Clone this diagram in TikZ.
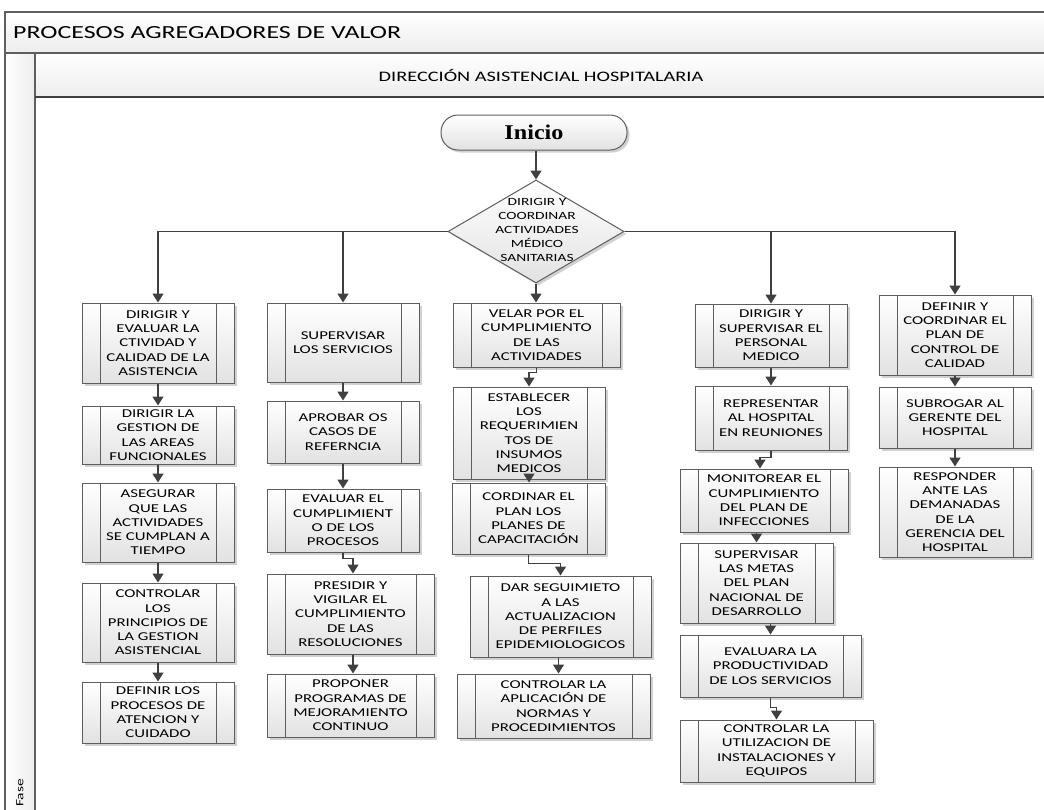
\documentclass[tikz,border=0pt]{standalone}
\usepackage{fontspec}
\usetikzlibrary{shapes.geometric,arrows.meta,shadows,calc}
\newfontfamily\cfont[FakeStretch=1.4]{Carlito}
\newfontfamily\tfont[FakeStretch=1.15]{Liberation Serif}
\definecolor{bordergray}{HTML}{5E5E5E}
\definecolor{arrowgray}{HTML}{404040}
\definecolor{fillgray}{HTML}{E2E2E2}
\definecolor{bandgray}{HTML}{EDEDED}
\tikzset{
 shade/.style={drop shadow={shadow xshift=2.5pt,shadow yshift=-2.5pt,fill=black,opacity=0.18}},
 proc/.style={draw=bordergray, line width=1pt, top color=white, bottom color=fillgray,
   inner sep=0pt, align=center, font=\cfont\fontsize{12}{14.3}\selectfont, shade,
   path picture={\draw[bordergray, line width=1pt]
     ([xshift=18pt]path picture bounding box.north west) -- ([xshift=18pt]path picture bounding box.south west)
     ([xshift=-18pt]path picture bounding box.north east) -- ([xshift=-18pt]path picture bounding box.south east);}},
 arr/.style={draw=arrowgray, line width=1.6pt, -{Triangle[width=11pt,length=9pt]}},
 hdr/.style={font=\cfont\fontsize{#1}{#1}\selectfont, inner sep=0pt},
}
\newcommand\pbox[6]{\node[proc, minimum width=#4pt, minimum height=#5pt] (#1) at (#2,#3) {#6};}
\begin{document}
\begin{tikzpicture}[x=1pt,y=-1pt]
\useasboundingbox (0,0) rectangle (1044,809);
\clip (0,0) rectangle (1044,809);
% frame
\path[top color=white, bottom color=bandgray] (5,12) rectangle (1060,53);
\path[top color=white, bottom color=bandgray] (35,53) rectangle (1060,97);
\path[left color=white, right color=bandgray] (5,53) rectangle (35,830);
\draw[bordergray, line width=1.3pt] (1060,12) -- (5,12) -- (5,830);
\draw[bordergray, line width=1.3pt] (5,53) -- (1060,53);
\draw[bordergray, line width=1.3pt] (35,53) -- (35,830);
\draw[arrowgray, line width=1.3pt] (35,97) -- (1060,97);
\node[hdr=18.5, anchor=west] (h1) at (13,32.5) {PROCESOS AGREGADORES DE VALOR};
\node[hdr=14.5] (h2) at (541,75) {DIRECCIÓN ASISTENCIAL HOSPITALARIA};
\node[hdr=11, rotate=90] (fase) at (20,793) {Fase};
% start and decision
\node[draw=bordergray, line width=1pt, rounded corners=17pt, minimum width=186pt, minimum height=35pt,
  top color=white, bottom color=fillgray, shade, font=\tfont\bfseries\fontsize{21}{24}\selectfont] (start) at (534,132.5) {Inicio};
\node[diamond, draw=bordergray, line width=1pt, minimum width=176pt, minimum height=103pt, inner sep=0pt,
  top color=white, bottom color=fillgray, shade] (dec) at (536,231.5) {};
\node[font=\cfont\fontsize{11}{14}\selectfont, align=center, inner sep=0pt] (dectext) at (537,230)
  {DIRIGIR Y\\COORDINAR\\ACTIVIDADES\\MÉDICO\\SANITARIAS};
% column 1
\pbox{a1}{158}{343}{152}{80}{DIRIGIR Y\\EVALUAR LA\\CTIVIDAD Y\\CALIDAD DE LA\\ASISTENCIA}
\pbox{a2}{158}{435}{152}{58}{DIRIGIR LA\\GESTION DE\\LAS AREAS\\FUNCIONALES}
\pbox{a3}{158}{522.5}{152}{79}{ASEGURAR\\QUE LAS\\ACTIVIDADES\\SE CUMPLAN A\\TIEMPO}
\pbox{a4}{158}{622.5}{152}{79}{CONTROLAR\\LOS\\PRINCIPIOS DE\\LA GESTION\\ASISTENCIAL}
\pbox{a5}{158}{712.5}{152}{61}{DEFINIR LOS\\PROCESOS DE\\ATENCION Y\\CUIDADO}
% column 2
\pbox{b1}{343}{342.5}{152}{79}{SUPERVISAR\\LOS SERVICIOS}
\pbox{b2}{343}{432}{152}{62}{APROBAR OS\\CASOS DE\\REFERNCIA}
\pbox{b3}{343}{520.5}{152}{63}{EVALUAR EL\\CUMPLIMIENT\\O DE LOS\\PROCESOS}
\pbox{b4}{350.5}{614}{167}{80}{PRESIDIR Y\\VIGILAR EL\\CUMPLIMIENTO\\DE LAS\\RESOLUCIONES}
\pbox{b5}{350.5}{705.5}{167}{63}{PROPONER\\PROGRAMAS DE\\MEJORAMIENTO\\CONTINUO}
% column 3
\pbox{c1}{536.5}{335}{167}{64}{VELAR POR EL\\CUMPLIMIENTO\\DE LAS\\ACTIVIDADES}
\pbox{c2}{529}{433}{152}{92}{ESTABLECER\\LOS\\REQUERIMIEN\\TOS DE\\INSUMOS\\MEDICOS}
\pbox{c3}{528.5}{518.5}{153}{71}{CORDINAR EL\\PLAN LOS\\PLANES DE\\CAPACITACIÓN}
\pbox{c4}{560.5}{616.5}{181}{81}{DAR SEGUIMIETO\\A LAS\\ACTUALIZACION\\DE PERFILES\\EPIDEMIOLOGICOS}
\pbox{c5}{553.5}{706}{193}{64}{CONTROLAR LA\\APLICACIÓN DE\\NORMAS Y\\PROCEDIMIENTOS}
% column 4
\pbox{d1}{771}{335.5}{152}{63}{DIRIGIR Y\\SUPERVISAR EL\\PERSONAL\\MEDICO}
\pbox{d2}{771}{418}{152}{64}{REPRESENTAR\\AL HOSPITAL\\EN REUNIONES}
\pbox{d3}{764}{500.5}{168}{63}{MONITOREAR EL\\CUMPLIMIENTO\\DEL PLAN DE\\INFECCIONES}
\pbox{d4}{756.5}{583}{153}{80}{SUPERVISAR\\LAS METAS\\DEL PLAN\\NACIONAL DE\\DESARROLLO}
\pbox{d5}{770.5}{666}{181}{62}{EVALUARA LA\\PRODUCTIVIDAD\\DE LOS SERVICIOS}
\pbox{d6}{776.5}{751}{193}{62}{CONTROLAR LA\\UTILIZACION DE\\INSTALACIONES Y\\EQUIPOS}
% column 5
\pbox{e1}{955}{335}{152}{80}{DEFINIR Y\\COORDINAR EL\\PLAN DE\\CONTROL DE\\CALIDAD}
\pbox{e2}{955}{417.5}{152}{61}{SUBROGAR AL\\GERENTE DEL\\HOSPITAL}
\pbox{e3}{955}{512}{152}{90}{RESPONDER\\ANTE LAS\\DEMANADAS\\DE LA\\GERENCIA DEL\\HOSPITAL}
% connectors
\draw[arr] (start.south -| dec.north) -- (dec.north);
\draw[arr] (dec.west) -| (a1.north);
\draw[arr] (dec.west) -| (b1.north);
\draw[arr] (dec.south) -- (dec.south |- c1.north);
\draw[arr] (dec.east) -| (d1.north);
\draw[arr] (dec.east) -| (e1.north);
\draw[arr] (a1) -- (a2);
\draw[arr] (a2) -- (a3);
\draw[arr] (a3) -- (a4);
\draw[arr] (a4) -- (a5);
\draw[arr] (b1) -- (b2);
\draw[arr] (b2) -- (b3);
\draw[arr] (b3.south) -- ++(0,6) -| ([xshift=2.5pt]b4.north);
\draw[arr] ([xshift=2.5pt]b4.south) -- ([xshift=2.5pt]b5.north);
\draw[arr] (c1.south) -- ++(0,5) -| (c2.north);
\draw[arr] (c2.south) -- (c2.south |- c3.north);
\draw[arr] (c3.south) -- ++(0,9) -| (c4.north);
\draw[arr] ([xshift=-2pt]c4.south) -- ([xshift=-2pt]c4.south |- c5.north);
\draw[arr] (d1) -- (d2);
\draw[arr] (d2.south) -- ++(0,7) -| ([xshift=-4pt]d3.north);
\draw[arr] (d4.north |- d3.south) -- (d4.north);
\draw[arr] (d5.north |- d4.south) -- (d5.north);
\draw[arr] (d5.south) -- ++(0,10) -| (d6.north);
\draw[arr] (e1) -- (e2);
\draw[arr] (e2) -- (e3);
\end{tikzpicture}
\end{document}
